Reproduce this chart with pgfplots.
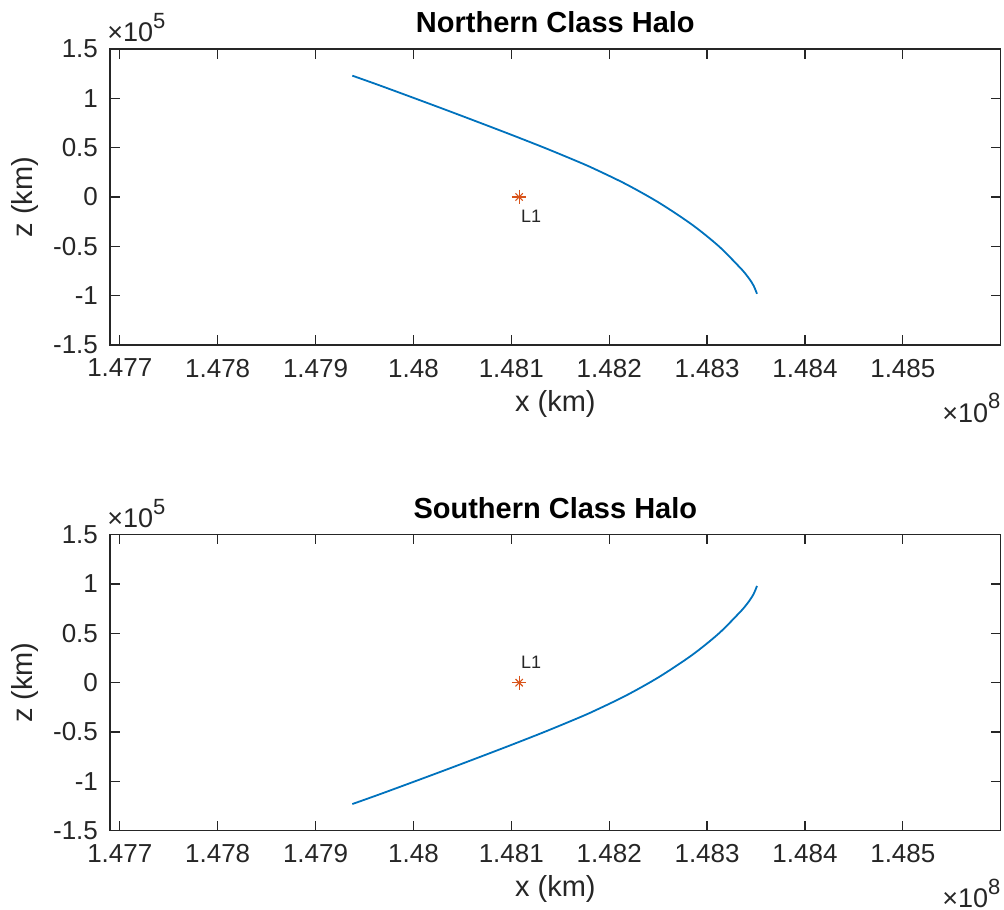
\documentclass[border=0pt]{standalone}
\usepackage{fontspec}
\setmainfont{Liberation Sans}
\usepackage{pgfplots}
\usepackage{pgfplotstable}
\pgfplotsset{compat=1.18}
\definecolor{mblue}{HTML}{0072BD}
\definecolor{morange}{HTML}{D95319}
\definecolor{mgray}{HTML}{262626}

\pgfplotstableread{
x z
147937569 122972
147964045 113622
147998056 101223
148031966 88723
148065875 76019
148099886 63112
148133796 49900
148164345 37400
148182980 29371
148216990 13110
148250900 -5793
148284810 -28152
148311998 -49900
148332364 -70226
148338474 -76934
148343566 -83540
148347639 -90044
148351000 -98073
}\northern

\pgfplotstableread{
x z
147937569 -122972
147964045 -113622
147998056 -101223
148031966 -88723
148065875 -76019
148099886 -63112
148133796 -49900
148164345 -37400
148182980 -29371
148216990 -13110
148250900 5793
148284810 28152
148311998 49900
148332364 70226
148338474 76934
148343566 83540
148347639 90044
148351000 98073
}\southern

\pgfplotstableread{
x z
148108000 0
}\lone

\newcommand{\sciexp}[1]{×10\raisebox{0.5em}{\fontsize{11}{12}\selectfont #1}}

\pgfplotsset{
  halo/.style={
    width=445.35pt, height=148pt, scale only axis,
    xmin=1.4769e8, xmax=1.486e8, ymin=-1.5e5, ymax=1.5e5,
    xtick={1.477e8,1.478e8,1.479e8,1.48e8,1.481e8,1.482e8,1.483e8,1.484e8,1.485e8},
    ytick={-1.5e5,-1e5,-0.5e5,0,0.5e5,1e5,1.5e5},
    scaled x ticks=base 10:-8,
    scaled y ticks=base 10:-5,
    xtick scale label code/.code={\sciexp{8}},
    ytick scale label code/.code={\sciexp{5}},
    every x tick scale label/.style={at={(axis description cs:1,-0.237)}, anchor=base east, inner sep=0pt, font=\fontsize{13.5}{15}\selectfont, text=mgray},
    every y tick scale label/.style={at={(axis description cs:0,1.024)}, anchor=base west, inner sep=0pt, xshift=1pt, font=\fontsize{13.5}{15}\selectfont, text=mgray},
    xticklabel style={/pgf/number format/fixed, /pgf/number format/precision=3, yshift=-3.5pt},
    yticklabel style={/pgf/number format/fixed, /pgf/number format/precision=2, xshift=-2.5pt},
    /pgf/number format/assume math mode=true,
    tick label style={font=\fontsize{13}{15}\selectfont, text=mgray},
    tick align=inside,
    major tick length=4.8pt,
    every tick/.style={mgray, line width=0.6pt},
    axis line style={mgray, line width=0.6pt},
    xlabel={x (km)}, ylabel={z (km)},
    label style={font=\fontsize{14.5}{17}\selectfont, text=mgray},
    xlabel style={at={(axis description cs:0.5,-0.198)}, anchor=center},
    ylabel style={at={(axis description cs:-0.0954,0.5)}, anchor=center},
    title style={font=\fontsize{14.5}{17}\selectfont\bfseries, at={(axis description cs:0.5,1)}, anchor=south, inner sep=0pt, yshift=2pt},
  }
}

\begin{document}
\begin{tikzpicture}
\path[use as bounding box] (-55pt,-282pt) rectangle (447pt,172.5pt);

\begin{axis}[halo, at={(0,0)}, anchor=south west, title={Northern Class Halo}]
\addplot[mblue, line width=0.9pt, smooth, tension=0.5, no markers] table[x=x,y=z] {\northern};
\addplot[morange, only marks, mark=+, mark size=3.6pt, mark options={line width=0.6pt}] table[x=x,y=z] {\lone};
\addplot[morange, only marks, mark=x, mark size=2.6pt, mark options={line width=0.6pt}] table[x=x,y=z] {\lone};
\node[anchor=north west, inner sep=0pt, xshift=0.8pt, yshift=-6.2pt, font=\fontsize{9}{10}\selectfont, text=mgray] at (axis cs:1.48108e8,0) {L1};
\end{axis}

\begin{axis}[halo, at={(0,-242.85pt)}, anchor=south west, title={Southern Class Halo}]
\addplot[mblue, line width=0.9pt, smooth, tension=0.5, no markers] table[x=x,y=z] {\southern};
\addplot[morange, only marks, mark=+, mark size=3.6pt, mark options={line width=0.6pt}] table[x=x,y=z] {\lone};
\addplot[morange, only marks, mark=x, mark size=2.6pt, mark options={line width=0.6pt}] table[x=x,y=z] {\lone};
\node[anchor=south west, inner sep=0pt, xshift=0.8pt, yshift=7pt, font=\fontsize{9}{10}\selectfont, text=mgray] at (axis cs:1.48108e8,0) {L1};
\end{axis}
\end{tikzpicture}
\end{document}
